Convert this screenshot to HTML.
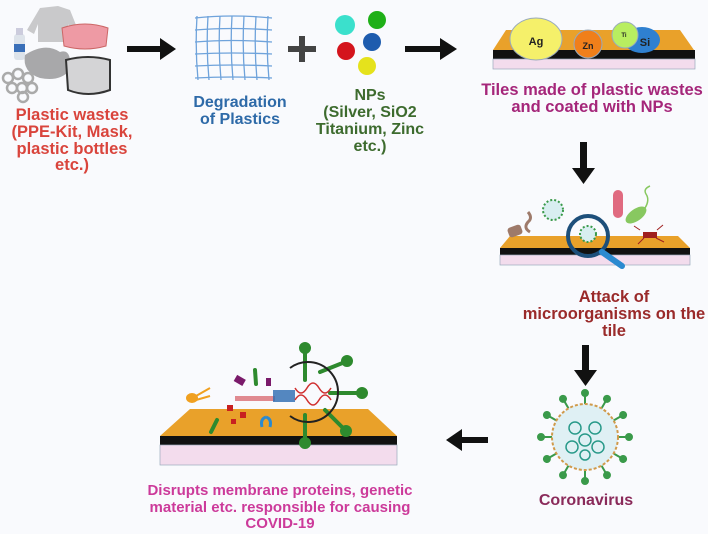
<!DOCTYPE html>
<html><head><meta charset="utf-8"><style>
html,body{margin:0;padding:0;background:#f9fafd;}
svg{display:block;}
text{font-family:"Liberation Sans",sans-serif;font-weight:bold;text-anchor:middle;}
</style></head><body>
<svg width="708" height="534" viewBox="0 0 708 534" xmlns="http://www.w3.org/2000/svg">
<rect width="708" height="534" fill="#f9fafd"/>
<!-- plastic wastes icons -->
<path d="M40 8 L58 6 L70 10 L78 30 L72 34 L68 24 L68 42 L38 42 L38 24 L34 34 L27 30 Z" fill="#c9c9cb"/>
<rect x="14" y="34" width="11" height="26" rx="3" fill="#dde3ea"/><rect x="16" y="28" width="7" height="7" fill="#ccd"/><rect x="14" y="44" width="11" height="8" fill="#3a6fb8"/>
<path d="M62 28 Q85 20 108 28 L106 46 Q85 52 64 46 Z" fill="#ee9aa4" stroke="#c66" stroke-width="1"/>
<path d="M25 55 Q45 42 60 52 Q72 48 70 70 Q60 82 40 78 Q22 72 25 55Z" fill="#a8a8aa"/>
<path d="M66 60 Q88 54 110 60 L110 90 Q88 98 68 90 Z" fill="#d4d4d6" stroke="#333" stroke-width="2"/>
<g fill="none" stroke="#aaa" stroke-width="2.5"><circle cx="8" cy="78" r="5"/><circle cx="18" cy="74" r="5"/><circle cx="28" cy="78" r="5"/><circle cx="12" cy="88" r="5"/><circle cx="22" cy="88" r="5"/><circle cx="32" cy="88" r="5"/><circle cx="23" cy="97" r="5"/></g>
<g font-size="16.5" fill="#d9443c"><text x="72" y="120">Plastic wastes</text><text x="72" y="137">(PPE-Kit, Mask,</text><text x="72" y="154">plastic bottles</text><text x="72" y="170">etc.)</text></g>
<!-- arrows -->
<g fill="#111">
<path d="M127 46 H160 V38 L176 49 L160 60 V52 H127Z"/>
<path d="M405 46 H440 V38 L457 49 L440 60 V52 H405Z"/>
<path d="M580 142 H587 V168 H595 L583.5 184 L572 168 H580Z"/>
<path d="M582 345 H589 V370 H597 L585.5 386 L574 370 H582Z"/>
<path d="M488 437 V443 H462 V451 L446 440 L462 429 V437Z"/>
</g>
<path d="M288 49 H316 M302 36 V62" stroke="#444" stroke-width="6"/>
<!-- grid -->
<g stroke="#6fa3db" stroke-width="1.3" fill="none">
<path d="M195 18 Q232 14 272 18 M195 30 Q232 27 272 30 M195 42 Q232 39 272 42 M195 54 Q232 52 272 54 M195 66 Q232 64 272 66 M195 78 Q232 76 272 78"/>
<path d="M197 16 Q195 48 198 80 M208 16 Q206 48 209 80 M220 16 Q218 48 221 80 M232 16 Q230 48 233 80 M244 16 Q242 48 245 80 M256 16 Q254 48 257 80 M268 16 Q266 48 269 80"/>
</g>
<g font-size="16" fill="#2e6aa8"><text x="240" y="107">Degradation</text><text x="240" y="124">of Plastics</text></g>
<circle cx="345" cy="25" r="10" fill="#3be0cc"/><circle cx="377" cy="20" r="9" fill="#1fb018"/><circle cx="372" cy="42" r="9" fill="#1e5cae"/><circle cx="346" cy="51" r="9" fill="#d4141c"/><circle cx="367" cy="66" r="9" fill="#e5e21c"/>
<g font-size="16" fill="#3d6b2e"><text x="370" y="100">NPs</text><text x="370" y="117">(Silver, SiO2</text><text x="370" y="134">Titanium, Zinc</text><text x="370" y="151">etc.)</text></g>
<!-- tile 1 -->
<path d="M506 30 H680 L694 50 H493Z" fill="#e9a12a"/><rect x="493" y="50" width="202" height="9" fill="#111"/><rect x="493" y="59" width="202" height="10" fill="#f3dced" stroke="#9ab" stroke-width="0.7"/>
<ellipse cx="536" cy="39" rx="26" ry="21" fill="#f5f06a" stroke="#9ab"/>
<circle cx="588" cy="44" r="14" fill="#f07f1a" stroke="#9ab"/>
<ellipse cx="642" cy="40" rx="18" ry="13" fill="#2f80d0"/>
<circle cx="625" cy="35" r="13" fill="#b8ee60" stroke="#9ab"/>
<text x="536" y="45" font-size="11" fill="#222">Ag</text><text x="588" y="49" font-size="9" fill="#222">Zn</text><text x="624" y="37" font-size="6" fill="#222">Ti</text><text x="645" y="46" font-size="11" fill="#222">Si</text>
<g font-size="16.5" fill="#a5267a"><text x="592" y="95">Tiles made of plastic wastes</text><text x="592" y="112">and coated with NPs</text></g>
<!-- tile 2 -->
<path d="M510 236 H678 L690 248 H500Z" fill="#e9a12a"/><rect x="500" y="248" width="190" height="7" fill="#111"/><rect x="500" y="255" width="190" height="10" fill="#f3dced" stroke="#9ab" stroke-width="0.7"/>
<rect x="508" y="226" width="14" height="10" rx="3" fill="#9e7a6a" transform="rotate(-20 515 231)"/>
<path d="M528 212 q5 6 0 10 q-5 6 2 10" stroke="#9e7a6a" stroke-width="3" fill="none"/>
<circle cx="553" cy="210" r="10" fill="#d8eef0" stroke="#3a9a4a" stroke-width="2" stroke-dasharray="2 2"/>
<circle cx="588" cy="236" r="20" fill="none" stroke="#1d4f7a" stroke-width="4"/>
<circle cx="588" cy="234" r="8" fill="#d8eef0" stroke="#3a9a4a" stroke-width="2" stroke-dasharray="2 2"/>
<path d="M602 252 L622 266" stroke="#2a8ad0" stroke-width="6" stroke-linecap="round"/>
<rect x="613" y="190" width="10" height="28" rx="5" fill="#e06a80"/>
<ellipse cx="636" cy="215" rx="12" ry="6" fill="#88c860" transform="rotate(-35 636 215)"/>
<path d="M645 208 q5-8 1-14 q-3-5 4-8" stroke="#88c860" stroke-width="1.5" fill="none"/>
<rect x="643" y="232" width="14" height="6" fill="#a02020"/>
<path d="M640 230 l-6-4 M644 238 l-6 6 M657 230 l6-5 M656 238 l8 4" stroke="#a02020" stroke-width="1"/>
<g font-size="16.5" fill="#9a2a2a"><text x="614" y="302">Attack of</text><text x="614" y="319">microorganisms on the</text><text x="614" y="336">tile</text></g>
<!-- coronavirus -->
<g stroke="#3a9a4a" stroke-width="2" fill="#3a9a4a">
<g id="sp"><line x1="585" y1="404" x2="585" y2="394"/><circle cx="585" cy="393" r="3"/></g>
<use href="#sp" transform="rotate(30 585 437)"/><use href="#sp" transform="rotate(60 585 437)"/><use href="#sp" transform="rotate(90 585 437)"/><use href="#sp" transform="rotate(120 585 437)"/><use href="#sp" transform="rotate(150 585 437)"/><use href="#sp" transform="rotate(180 585 437)"/><use href="#sp" transform="rotate(210 585 437)"/><use href="#sp" transform="rotate(240 585 437)"/><use href="#sp" transform="rotate(270 585 437)"/><use href="#sp" transform="rotate(300 585 437)"/><use href="#sp" transform="rotate(330 585 437)"/>
</g>
<circle cx="585" cy="437" r="33" fill="#dff0f4" stroke="#d09a4a" stroke-width="2" stroke-dasharray="3 2"/>
<g fill="none" stroke="#2a9a8a" stroke-width="1.5"><circle cx="575" cy="428" r="6"/><circle cx="595" cy="428" r="6"/><circle cx="585" cy="440" r="6"/><circle cx="572" cy="447" r="6"/><circle cx="598" cy="447" r="6"/><circle cx="585" cy="455" r="5"/></g>
<text x="586" y="505" font-size="16" fill="#8a2a5a">Coronavirus</text>
<!-- bottom tile -->
<path d="M190 409 H368 L397 436 H160Z" fill="#e9a12a"/><rect x="160" y="436" width="237" height="9" fill="#111"/><rect x="160" y="445" width="237" height="20" fill="#f3dced" stroke="#9ab" stroke-width="0.7"/>
<g stroke="#2e8a2e" stroke-width="4" fill="#2e8a2e" stroke-linecap="round">
<line x1="305" y1="380" x2="305" y2="350"/><circle cx="305" cy="348" r="4"/>
<line x1="320" y1="372" x2="345" y2="362"/><circle cx="347" cy="361" r="4"/>
<line x1="330" y1="393" x2="358" y2="393"/><circle cx="362" cy="393" r="4"/>
<line x1="325" y1="410" x2="343" y2="428"/><circle cx="346" cy="431" r="4"/>
<line x1="305" y1="415" x2="305" y2="440"/><circle cx="305" cy="443" r="4"/>
<line x1="217" y1="420" x2="211" y2="432"/><line x1="255" y1="370" x2="256" y2="384"/>
</g>
<path d="M290 368 A30 30 0 1 1 290 416" fill="none" stroke="#222" stroke-width="2"/>
<rect x="235" y="396" width="40" height="5" fill="#e08a90"/><rect x="273" y="390" width="22" height="12" fill="#2a6ab0" opacity="0.8"/>
<path d="M295 388 q6 10 12 0 q6 -10 12 0 q6 10 12 0 M295 400 q6 -10 12 0 q6 10 12 0 q6 -10 12 0" stroke="#d03030" stroke-width="1.5" fill="none"/>
<rect x="235" y="377" width="10" height="7" fill="#7a1a6a" transform="rotate(30 240 380)"/><rect x="266" y="378" width="5" height="8" fill="#7a1a6a"/>
<rect x="227" y="405" width="6" height="6" fill="#c82020"/><rect x="240" y="412" width="6" height="6" fill="#c82020"/><rect x="231" y="419" width="5" height="5" fill="#c82020"/>
<path d="M262 427 q-2-8 4-10 M270 427 q2-8-4-10" stroke="#2a8ad0" stroke-width="3" fill="none"/>
<ellipse cx="192" cy="398" rx="6" ry="5" fill="#f0a020"/><path d="M196 396 L210 388 M196 400 L210 396" stroke="#f0a020" stroke-width="2"/>
<g font-size="15" fill="#cc3a9a"><text x="280" y="495">Disrupts membrane proteins, genetic</text><text x="280" y="512">material etc.  responsible for causing</text><text x="280" y="528">COVID-19</text></g>
</svg>
</body></html>
